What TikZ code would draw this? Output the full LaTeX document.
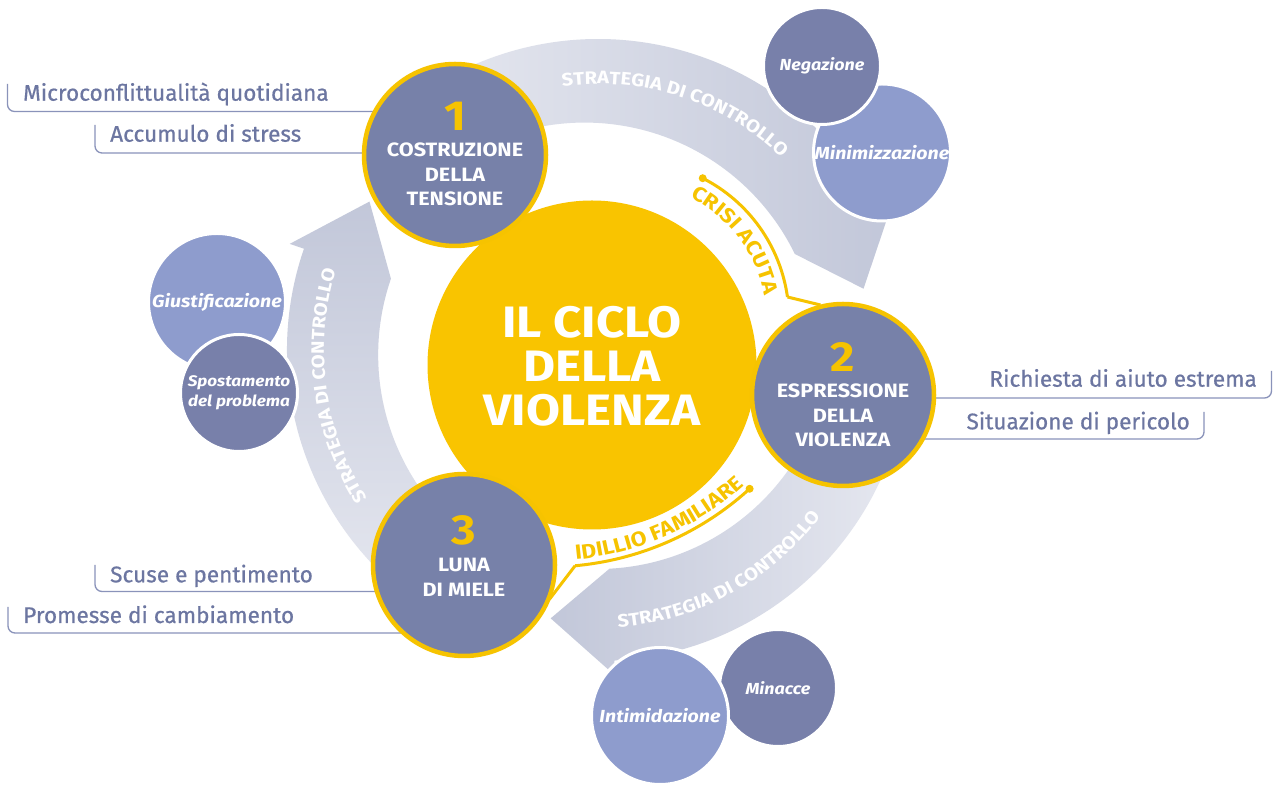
\documentclass[tikz,border=0pt]{standalone}
\usepackage{fontspec}
\setmainfont{Fira Sans}
\newfontfamily\wide{Fira Sans}[FakeStretch=1.12]
\newfontfamily\labfont{Fira Sans}[FakeBold=0.6]
\usetikzlibrary{decorations.text}
\definecolor{slate}{HTML}{7781A9}
\definecolor{cyel}{HTML}{F6C300}
\definecolor{ycenter}{HTML}{F9C400}
\definecolor{sdark}{HTML}{7880AA}
\definecolor{slight}{HTML}{8E9CCD}
\definecolor{ardark}{HTML}{C2C7D9}
\definecolor{arlight}{HTML}{E6E8F0}
\definecolor{labc}{HTML}{6C76A1}
\definecolor{brkc}{HTML}{8A93BA}
\begin{document}
\begin{tikzpicture}[x=1pt,y=1pt,
 bigc/.style={circle, fill=slate, draw=cyel, line width=4.5pt, minimum size=182pt, inner sep=0pt},
 smc/.style={circle, draw=white, line width=3pt, inner sep=0pt, text=white, font=\wide\bfseries\itshape\fontsize{17.5}{21}\selectfont, align=center},
 smdark/.style={smc, fill=sdark, font=\wide\bfseries\itshape\fontsize{16}{20}\selectfont},
 smlight/.style={smc, fill=slight},
 numtxt/.style={text=white, font=\wide\bfseries\fontsize{19.3}{24.5}\selectfont, align=center, inner sep=0pt},
 ctext/.style={text=white, font=\wide\bfseries\fontsize{44}{44}\selectfont, align=center, inner sep=0pt},
 lab/.style={text=labc, font=\labfont\fontsize{22.6}{24}\selectfont, inner sep=0pt},
 brk/.style={draw=brkc, line width=1.3pt, rounded corners=7pt},
 yline/.style={draw=cyel, line width=3pt},
 arrtxt/.style={decorate, decoration={text along path, text align=center, text color=white,
   text={|\wide\bfseries\fontsize{18}{18}\selectfont|STRATEGIA DI CONTROLLO}}},
]
\useasboundingbox (0,0) rectangle (1280,792);
\fill[white] (0,0) rectangle (1280,792);

% grey arrows
\begin{scope}[shift={(598,442)}]
 \path[left color=arlight, right color=ardark] (126:311) arc[start angle=126,end angle=26,radius=311] -- (26:326) -- (13:272.5) -- (26:219) arc[start angle=26,end angle=126,radius=234] -- cycle;
 \path[bottom color=arlight, top color=ardark] (238:311) arc[start angle=238,end angle=161,radius=311] -- (161:326) -- (147:272.5) -- (161:219) arc[start angle=161,end angle=238,radius=234] -- cycle;
 \path[right color=arlight, left color=ardark] (350:311) arc[start angle=350,end angle=273,radius=311] -- (273:326) -- (260:272.5) -- (273:219) arc[start angle=273,end angle=350,radius=234] -- cycle;
 \path[arrtxt] (104:266) arc[start angle=104,end angle=40,radius=266];
 \path[arrtxt] (216:274) arc[start angle=216,end angle=160,radius=274];
 \path[arrtxt] (270:278) arc[start angle=270,end angle=327.4,radius=278];
\end{scope}

% brackets
\draw[brk] (7.5,708) |- (400,680.5);
\draw[brk] (95,667) |- (400,639);
\draw[brk] (1271.5,421) |- (900,394);
\draw[brk] (1204,380) |- (880,353);
\draw[brk] (95,227) |- (430,200.5);
\draw[brk] (8,185) |- (430,159);

% yellow phase lines
\coordinate (k2) at (820.5,487);
\coordinate (k3) at (549.3,192.5);
\begin{scope}[shift={(631,473)}]
 \draw[yline] (63:158) arc[start angle=63,end angle=8,radius=158] coordinate (ca);
 \fill[cyel] (63:158) circle[radius=4];
 \path[decorate, decoration={text along path, text align=center, text color=cyel,
   text={|\wide\bfseries\fontsize{20.5}{20.5}\selectfont|CRISI ACUTA}}] (66:135) arc[start angle=66,end angle=8,radius=135];
\end{scope}
\draw[yline] (ca) -- (k2);
\begin{scope}[shift={(548,524)}]
 \draw[yline] (-47.6:299) arc[start angle=-47.6,end angle=-84.8,radius=299] coordinate (ia);
 \fill[cyel] (-47.6:299) circle[radius=4];
 \path[decorate, decoration={text along path, text align=center, text color=cyel,
   text={|\wide\bfseries\fontsize{20.5}{20.5}\selectfont|IDILLIO FAMILIARE}}] (-84.8:293) arc[start angle=-84.8,end angle=-47.6,radius=293];
\end{scope}
\draw[yline] (ia) -- (k3);

% centre
\node[circle, fill=ycenter, minimum size=329pt, inner sep=0pt] (yc) at (592,427) {};
\node[ctext] (yt) at (592,426) {IL CICLO\\DELLA\\VIOLENZA};

% phases
\node[bigc] (C1) at (455,637) {};
\node[bigc] (C2) at (843,397) {};
\node[bigc] (C3) at (464,227) {};
\node[numtxt] (t1) at (455,638) {\textcolor{cyel}{\fontsize{42}{42}\selectfont 1}\\[2pt]COSTRUZIONE\\DELLA\\TENSIONE};
\node[numtxt] (t2) at (843,397.5) {\textcolor{cyel}{\fontsize{42}{42}\selectfont 2}\\[2pt]ESPRESSIONE\\DELLA\\VIOLENZA};
\node[numtxt] (t3) at (464,236) {\textcolor{cyel}{\fontsize{42}{42}\selectfont 3}\\[3pt]LUNA\\DI MIELE};

% strategies
\node[smlight, minimum size=137pt] (mini) at (882,639.5) {Minimizzazione};
\node[smdark, minimum size=117pt] (neg) at (822,726) {Negazione};
\node[smlight, minimum size=137pt] (giu) at (217,490) {Giustificazione};
\node[smdark, minimum size=117pt, font=\wide\bfseries\itshape\fontsize{15.3}{20}\selectfont] (spo) at (239,399) {Spostamento\\del problema};
\node[smdark, minimum size=117pt] (mina) at (778,104) {Minacce};
\node[smlight, minimum size=137pt] (inti) at (660,76) {Intimidazione};

% labels
\node[lab, anchor=base west] (l1) at (23,691.3) {Microconflittualità quotidiana};
\node[lab, anchor=base west] (l2) at (110,650.3) {Accumulo di stress};
\node[lab, anchor=base east] (l3) at (1257,405.3) {Richiesta di aiuto estrema};
\node[lab, anchor=base east] (l4) at (1190,362.7) {Situazione di pericolo};
\node[lab, anchor=base west] (l5) at (110,209.7) {Scuse e pentimento};
\node[lab, anchor=base west] (l6) at (23,169) {Promesse di cambiamento};
\end{tikzpicture}
\end{document}
